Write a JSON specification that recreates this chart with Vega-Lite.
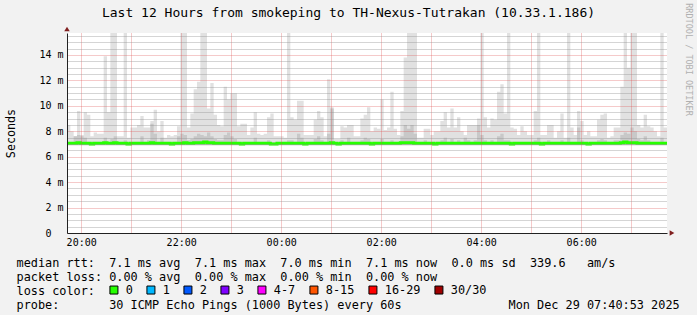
{
  "$schema": "https://vega.github.io/schema/vega-lite/v6.json",
  "width": 600,
  "height": 200,
  "autosize": "none",
  "padding": {"left": 67, "top": 33, "right": 30, "bottom": 82},
  "background": "#f2f2f2",
  "config": {"view": {"fill": "#ffffff", "stroke": null}, "font": "DejaVu Sans Mono"},
  "title": {"text": "Last 12 Hours from smokeping to TH-Nexus-Tutrakan (10.33.1.186)", "font": "DejaVu Sans Mono", "fontSize": 13, "fontWeight": "normal", "color": "#000000", "anchor": "middle", "dx": -18.5, "dy": 17, "offset": 0},
  "data": {"values": [
    {"t":"2025-12-28T19:43Z","mx":8.5,"p":7.15,"m":7.05},
    {"t":"2025-12-28T19:47Z","mx":8.0,"p":7.15,"m":7.05},
    {"t":"2025-12-28T19:51Z","mx":7.6,"p":7.6,"m":7.05},
    {"t":"2025-12-28T19:55Z","mx":9.6,"p":7.7,"m":7.1},
    {"t":"2025-12-28T19:59Z","mx":7.7,"p":7.6,"m":7.05},
    {"t":"2025-12-28T20:03Z","mx":9.5,"p":7.5,"m":7.05},
    {"t":"2025-12-28T20:07Z","mx":9.3,"p":7.15,"m":7.05},
    {"t":"2025-12-28T20:11Z","mx":7.6,"p":7.15,"m":7.0},
    {"t":"2025-12-28T20:15Z","mx":7.9,"p":7.15,"m":7.05},
    {"t":"2025-12-28T20:19Z","mx":7.8,"p":7.15,"m":7.05},
    {"t":"2025-12-28T20:23Z","mx":7.8,"p":7.15,"m":7.05},
    {"t":"2025-12-28T20:27Z","mx":13.9,"p":7.5,"m":7.1},
    {"t":"2025-12-28T20:31Z","mx":9.5,"p":7.15,"m":7.05},
    {"t":"2025-12-28T20:35Z","mx":16,"p":7.4,"m":7.05},
    {"t":"2025-12-28T20:39Z","mx":16,"p":7.6,"m":7.1},
    {"t":"2025-12-28T20:43Z","mx":7.6,"p":7.15,"m":7.05},
    {"t":"2025-12-28T20:47Z","mx":7.6,"p":7.15,"m":7.05},
    {"t":"2025-12-28T20:51Z","mx":16,"p":7.3,"m":7.05},
    {"t":"2025-12-28T20:55Z","mx":7.5,"p":7.15,"m":7.0},
    {"t":"2025-12-28T20:59Z","mx":8.3,"p":7.15,"m":7.05},
    {"t":"2025-12-28T21:03Z","mx":8.3,"p":7.15,"m":7.05},
    {"t":"2025-12-28T21:07Z","mx":8.5,"p":7.15,"m":7.05},
    {"t":"2025-12-28T21:11Z","mx":9.2,"p":7.6,"m":7.05},
    {"t":"2025-12-28T21:15Z","mx":8.3,"p":7.15,"m":7.05},
    {"t":"2025-12-28T21:19Z","mx":8.3,"p":7.3,"m":7.05},
    {"t":"2025-12-28T21:23Z","mx":8.8,"p":8.6,"m":7.1},
    {"t":"2025-12-28T21:27Z","mx":9.7,"p":7.8,"m":7.05},
    {"t":"2025-12-28T21:31Z","mx":8.0,"p":7.15,"m":7.05},
    {"t":"2025-12-28T21:35Z","mx":8.8,"p":7.5,"m":7.05},
    {"t":"2025-12-28T21:39Z","mx":7.5,"p":7.15,"m":7.05},
    {"t":"2025-12-28T21:43Z","mx":7.7,"p":7.15,"m":7.05},
    {"t":"2025-12-28T21:47Z","mx":7.6,"p":7.15,"m":7.0},
    {"t":"2025-12-28T21:51Z","mx":7.7,"p":7.15,"m":7.05},
    {"t":"2025-12-28T21:55Z","mx":8.4,"p":7.6,"m":7.05},
    {"t":"2025-12-28T21:59Z","mx":16,"p":7.8,"m":7.05},
    {"t":"2025-12-28T22:03Z","mx":16,"p":7.7,"m":7.1},
    {"t":"2025-12-28T22:07Z","mx":8.3,"p":7.3,"m":7.05},
    {"t":"2025-12-28T22:11Z","mx":9.4,"p":7.4,"m":7.05},
    {"t":"2025-12-28T22:15Z","mx":11.3,"p":7.6,"m":7.1},
    {"t":"2025-12-28T22:19Z","mx":11.9,"p":7.8,"m":7.1},
    {"t":"2025-12-28T22:23Z","mx":16,"p":7.7,"m":7.1},
    {"t":"2025-12-28T22:27Z","mx":16,"p":7.6,"m":7.15},
    {"t":"2025-12-28T22:31Z","mx":9.8,"p":7.9,"m":7.1},
    {"t":"2025-12-28T22:35Z","mx":11.8,"p":7.6,"m":7.1},
    {"t":"2025-12-28T22:39Z","mx":9.3,"p":7.4,"m":7.05},
    {"t":"2025-12-28T22:43Z","mx":8.5,"p":7.3,"m":7.05},
    {"t":"2025-12-28T22:47Z","mx":8.4,"p":7.3,"m":7.05},
    {"t":"2025-12-28T22:51Z","mx":11.5,"p":7.7,"m":7.05},
    {"t":"2025-12-28T22:55Z","mx":10.5,"p":7.9,"m":7.05},
    {"t":"2025-12-28T22:59Z","mx":11.0,"p":7.6,"m":7.05},
    {"t":"2025-12-28T23:03Z","mx":11.0,"p":7.4,"m":7.05},
    {"t":"2025-12-28T23:07Z","mx":8.4,"p":7.15,"m":7.05},
    {"t":"2025-12-28T23:11Z","mx":8.6,"p":7.15,"m":7.0},
    {"t":"2025-12-28T23:15Z","mx":8.6,"p":7.15,"m":7.05},
    {"t":"2025-12-28T23:19Z","mx":7.7,"p":7.15,"m":7.05},
    {"t":"2025-12-28T23:23Z","mx":8.3,"p":7.15,"m":7.05},
    {"t":"2025-12-28T23:27Z","mx":9.5,"p":7.5,"m":7.05},
    {"t":"2025-12-28T23:31Z","mx":7.8,"p":7.15,"m":7.05},
    {"t":"2025-12-28T23:35Z","mx":7.7,"p":7.15,"m":7.05},
    {"t":"2025-12-28T23:39Z","mx":7.8,"p":7.15,"m":7.05},
    {"t":"2025-12-28T23:43Z","mx":9.1,"p":7.3,"m":7.05},
    {"t":"2025-12-28T23:47Z","mx":9.4,"p":7.15,"m":7.0},
    {"t":"2025-12-28T23:51Z","mx":7.6,"p":7.15,"m":7.0},
    {"t":"2025-12-28T23:55Z","mx":7.6,"p":7.15,"m":7.05},
    {"t":"2025-12-28T23:59Z","mx":7.6,"p":7.15,"m":7.05},
    {"t":"2025-12-29T00:03Z","mx":7.5,"p":7.15,"m":7.05},
    {"t":"2025-12-29T00:07Z","mx":16,"p":7.3,"m":7.05},
    {"t":"2025-12-29T00:11Z","mx":9.1,"p":7.3,"m":7.05},
    {"t":"2025-12-29T00:15Z","mx":8.9,"p":7.15,"m":7.05},
    {"t":"2025-12-29T00:19Z","mx":10.4,"p":7.8,"m":7.05},
    {"t":"2025-12-29T00:23Z","mx":10.4,"p":7.5,"m":7.05},
    {"t":"2025-12-29T00:27Z","mx":7.7,"p":7.15,"m":7.0},
    {"t":"2025-12-29T00:31Z","mx":7.7,"p":7.15,"m":7.05},
    {"t":"2025-12-29T00:35Z","mx":7.7,"p":7.15,"m":7.05},
    {"t":"2025-12-29T00:39Z","mx":8.9,"p":7.4,"m":7.05},
    {"t":"2025-12-29T00:43Z","mx":9.6,"p":7.6,"m":7.05},
    {"t":"2025-12-29T00:47Z","mx":9.1,"p":7.3,"m":7.05},
    {"t":"2025-12-29T00:51Z","mx":7.6,"p":7.15,"m":7.05},
    {"t":"2025-12-29T00:55Z","mx":12.1,"p":7.8,"m":7.05},
    {"t":"2025-12-29T00:59Z","mx":9.9,"p":9.8,"m":7.1},
    {"t":"2025-12-29T01:03Z","mx":7.4,"p":7.15,"m":7.05},
    {"t":"2025-12-29T01:07Z","mx":7.4,"p":7.15,"m":7.0},
    {"t":"2025-12-29T01:11Z","mx":8.4,"p":7.3,"m":7.05},
    {"t":"2025-12-29T01:15Z","mx":8.3,"p":7.15,"m":7.05},
    {"t":"2025-12-29T01:19Z","mx":8.5,"p":7.5,"m":7.05},
    {"t":"2025-12-29T01:23Z","mx":8.5,"p":7.15,"m":7.05},
    {"t":"2025-12-29T01:27Z","mx":7.6,"p":7.15,"m":7.05},
    {"t":"2025-12-29T01:31Z","mx":7.6,"p":7.15,"m":7.05},
    {"t":"2025-12-29T01:35Z","mx":9.0,"p":7.3,"m":7.05},
    {"t":"2025-12-29T01:39Z","mx":9.3,"p":7.5,"m":7.05},
    {"t":"2025-12-29T01:43Z","mx":9.9,"p":7.4,"m":7.05},
    {"t":"2025-12-29T01:47Z","mx":8.0,"p":7.15,"m":7.0},
    {"t":"2025-12-29T01:51Z","mx":8.3,"p":7.15,"m":7.05},
    {"t":"2025-12-29T01:55Z","mx":8.2,"p":7.15,"m":7.05},
    {"t":"2025-12-29T01:59Z","mx":10.5,"p":7.4,"m":7.05},
    {"t":"2025-12-29T02:03Z","mx":8.1,"p":7.15,"m":7.05},
    {"t":"2025-12-29T02:07Z","mx":8.3,"p":7.15,"m":7.05},
    {"t":"2025-12-29T02:11Z","mx":11.1,"p":7.3,"m":7.05},
    {"t":"2025-12-29T02:15Z","mx":8.2,"p":7.15,"m":7.05},
    {"t":"2025-12-29T02:19Z","mx":7.7,"p":7.15,"m":7.05},
    {"t":"2025-12-29T02:23Z","mx":9.6,"p":7.6,"m":7.1},
    {"t":"2025-12-29T02:27Z","mx":13.8,"p":8.5,"m":7.1},
    {"t":"2025-12-29T02:31Z","mx":16,"p":8.2,"m":7.1},
    {"t":"2025-12-29T02:35Z","mx":16,"p":8.5,"m":7.1},
    {"t":"2025-12-29T02:39Z","mx":16,"p":7.8,"m":7.05},
    {"t":"2025-12-29T02:43Z","mx":7.5,"p":7.15,"m":7.05},
    {"t":"2025-12-29T02:47Z","mx":7.5,"p":7.15,"m":7.05},
    {"t":"2025-12-29T02:51Z","mx":8.2,"p":7.3,"m":7.05},
    {"t":"2025-12-29T02:55Z","mx":8.2,"p":7.15,"m":7.05},
    {"t":"2025-12-29T02:59Z","mx":7.7,"p":7.15,"m":7.05},
    {"t":"2025-12-29T03:03Z","mx":8.0,"p":7.15,"m":7.0},
    {"t":"2025-12-29T03:07Z","mx":8.0,"p":7.15,"m":7.05},
    {"t":"2025-12-29T03:11Z","mx":8.8,"p":7.3,"m":7.05},
    {"t":"2025-12-29T03:15Z","mx":9.5,"p":7.5,"m":7.05},
    {"t":"2025-12-29T03:19Z","mx":8.3,"p":7.15,"m":7.05},
    {"t":"2025-12-29T03:23Z","mx":9.8,"p":7.4,"m":7.05},
    {"t":"2025-12-29T03:27Z","mx":8.3,"p":7.15,"m":7.05},
    {"t":"2025-12-29T03:31Z","mx":9.1,"p":7.3,"m":7.05},
    {"t":"2025-12-29T03:35Z","mx":8.0,"p":7.15,"m":7.05},
    {"t":"2025-12-29T03:39Z","mx":7.7,"p":7.5,"m":7.05},
    {"t":"2025-12-29T03:43Z","mx":8.5,"p":7.3,"m":7.05},
    {"t":"2025-12-29T03:47Z","mx":8.5,"p":7.15,"m":7.05},
    {"t":"2025-12-29T03:51Z","mx":8.5,"p":7.3,"m":7.05},
    {"t":"2025-12-29T03:55Z","mx":9.0,"p":8.5,"m":7.05},
    {"t":"2025-12-29T03:59Z","mx":16,"p":7.7,"m":7.05},
    {"t":"2025-12-29T04:03Z","mx":9.1,"p":7.3,"m":7.05},
    {"t":"2025-12-29T04:07Z","mx":8.3,"p":7.15,"m":7.05},
    {"t":"2025-12-29T04:11Z","mx":9.0,"p":7.3,"m":7.05},
    {"t":"2025-12-29T04:15Z","mx":8.9,"p":7.15,"m":7.05},
    {"t":"2025-12-29T04:19Z","mx":11.1,"p":7.6,"m":7.05},
    {"t":"2025-12-29T04:23Z","mx":11.7,"p":7.8,"m":7.05},
    {"t":"2025-12-29T04:27Z","mx":9.4,"p":7.3,"m":7.05},
    {"t":"2025-12-29T04:31Z","mx":16,"p":7.3,"m":7.05},
    {"t":"2025-12-29T04:35Z","mx":8.3,"p":7.15,"m":7.0},
    {"t":"2025-12-29T04:39Z","mx":8.2,"p":7.15,"m":7.05},
    {"t":"2025-12-29T04:43Z","mx":7.7,"p":7.15,"m":7.05},
    {"t":"2025-12-29T04:47Z","mx":8.4,"p":7.15,"m":7.05},
    {"t":"2025-12-29T04:51Z","mx":8.0,"p":7.15,"m":7.05},
    {"t":"2025-12-29T04:55Z","mx":7.7,"p":7.15,"m":7.05},
    {"t":"2025-12-29T04:59Z","mx":7.7,"p":7.15,"m":7.05},
    {"t":"2025-12-29T05:03Z","mx":9.6,"p":7.3,"m":7.05},
    {"t":"2025-12-29T05:07Z","mx":16,"p":7.5,"m":7.05},
    {"t":"2025-12-29T05:11Z","mx":7.7,"p":7.15,"m":7.0},
    {"t":"2025-12-29T05:15Z","mx":7.7,"p":7.15,"m":7.05},
    {"t":"2025-12-29T05:19Z","mx":8.5,"p":7.3,"m":7.05},
    {"t":"2025-12-29T05:23Z","mx":8.5,"p":7.15,"m":7.05},
    {"t":"2025-12-29T05:27Z","mx":7.5,"p":7.15,"m":7.05},
    {"t":"2025-12-29T05:31Z","mx":8.0,"p":7.15,"m":7.05},
    {"t":"2025-12-29T05:35Z","mx":9.4,"p":7.3,"m":7.05},
    {"t":"2025-12-29T05:39Z","mx":7.5,"p":7.15,"m":7.05},
    {"t":"2025-12-29T05:43Z","mx":16,"p":7.5,"m":7.05},
    {"t":"2025-12-29T05:47Z","mx":8.3,"p":7.15,"m":7.05},
    {"t":"2025-12-29T05:51Z","mx":7.7,"p":7.15,"m":7.05},
    {"t":"2025-12-29T05:55Z","mx":9.6,"p":8.3,"m":7.05},
    {"t":"2025-12-29T05:59Z","mx":8.8,"p":7.3,"m":7.05},
    {"t":"2025-12-29T06:03Z","mx":7.7,"p":7.15,"m":7.05},
    {"t":"2025-12-29T06:07Z","mx":8.0,"p":7.15,"m":7.0},
    {"t":"2025-12-29T06:11Z","mx":7.6,"p":7.15,"m":7.05},
    {"t":"2025-12-29T06:15Z","mx":7.6,"p":7.15,"m":7.05},
    {"t":"2025-12-29T06:19Z","mx":8.9,"p":7.3,"m":7.05},
    {"t":"2025-12-29T06:23Z","mx":9.3,"p":7.4,"m":7.05},
    {"t":"2025-12-29T06:27Z","mx":9.4,"p":7.3,"m":7.05},
    {"t":"2025-12-29T06:31Z","mx":7.5,"p":7.15,"m":7.05},
    {"t":"2025-12-29T06:35Z","mx":7.6,"p":7.15,"m":7.05},
    {"t":"2025-12-29T06:39Z","mx":8.3,"p":7.3,"m":7.05},
    {"t":"2025-12-29T06:43Z","mx":8.3,"p":7.3,"m":7.05},
    {"t":"2025-12-29T06:47Z","mx":11.5,"p":7.7,"m":7.1},
    {"t":"2025-12-29T06:51Z","mx":16,"p":7.9,"m":7.15},
    {"t":"2025-12-29T06:55Z","mx":13.0,"p":7.8,"m":7.1},
    {"t":"2025-12-29T06:59Z","mx":16,"p":8.3,"m":7.1},
    {"t":"2025-12-29T07:03Z","mx":16,"p":8.0,"m":7.1},
    {"t":"2025-12-29T07:07Z","mx":8.5,"p":7.4,"m":7.05},
    {"t":"2025-12-29T07:11Z","mx":8.3,"p":7.3,"m":7.05},
    {"t":"2025-12-29T07:15Z","mx":9.3,"p":7.6,"m":7.05},
    {"t":"2025-12-29T07:19Z","mx":8.4,"p":7.3,"m":7.05},
    {"t":"2025-12-29T07:23Z","mx":8.3,"p":7.15,"m":7.05},
    {"t":"2025-12-29T07:27Z","mx":8.0,"p":7.15,"m":7.05},
    {"t":"2025-12-29T07:31Z","mx":7.6,"p":7.15,"m":7.05},
    {"t":"2025-12-29T07:35Z","mx":16,"p":7.5,"m":7.05},
    {"t":"2025-12-29T07:39Z","mx":8.3,"p":7.15,"m":7.05},
    {"t":"2025-12-29T07:43Z","mx":8.3,"p":7.15,"m":7.05}
  ]},
  "layer": [
    {
      "mark": {"type": "area", "interpolate": "step-after", "color": "#e1e1e1", "clip": true},
      "encoding": {
        "x": {"field": "t", "type": "temporal",
          "scale": {"type": "utc", "domain": [{"year": 2025, "month": 12, "date": 28, "hours": 19, "minutes": 43, "utc": true}, {"year": 2025, "month": 12, "date": 29, "hours": 7, "minutes": 43, "utc": true}]},
          "axis": {
            "values": [
              {"year": 2025, "month": 12, "date": 28, "hours": 20, "minutes": 0, "utc": true},
              {"year": 2025, "month": 12, "date": 28, "hours": 20, "minutes": 30, "utc": true},
              {"year": 2025, "month": 12, "date": 28, "hours": 21, "minutes": 0, "utc": true},
              {"year": 2025, "month": 12, "date": 28, "hours": 21, "minutes": 30, "utc": true},
              {"year": 2025, "month": 12, "date": 28, "hours": 22, "minutes": 0, "utc": true},
              {"year": 2025, "month": 12, "date": 28, "hours": 22, "minutes": 30, "utc": true},
              {"year": 2025, "month": 12, "date": 28, "hours": 23, "minutes": 0, "utc": true},
              {"year": 2025, "month": 12, "date": 28, "hours": 23, "minutes": 30, "utc": true},
              {"year": 2025, "month": 12, "date": 29, "hours": 0, "minutes": 0, "utc": true},
              {"year": 2025, "month": 12, "date": 29, "hours": 0, "minutes": 30, "utc": true},
              {"year": 2025, "month": 12, "date": 29, "hours": 1, "minutes": 0, "utc": true},
              {"year": 2025, "month": 12, "date": 29, "hours": 1, "minutes": 30, "utc": true},
              {"year": 2025, "month": 12, "date": 29, "hours": 2, "minutes": 0, "utc": true},
              {"year": 2025, "month": 12, "date": 29, "hours": 2, "minutes": 30, "utc": true},
              {"year": 2025, "month": 12, "date": 29, "hours": 3, "minutes": 0, "utc": true},
              {"year": 2025, "month": 12, "date": 29, "hours": 3, "minutes": 30, "utc": true},
              {"year": 2025, "month": 12, "date": 29, "hours": 4, "minutes": 0, "utc": true},
              {"year": 2025, "month": 12, "date": 29, "hours": 4, "minutes": 30, "utc": true},
              {"year": 2025, "month": 12, "date": 29, "hours": 5, "minutes": 0, "utc": true},
              {"year": 2025, "month": 12, "date": 29, "hours": 5, "minutes": 30, "utc": true},
              {"year": 2025, "month": 12, "date": 29, "hours": 6, "minutes": 0, "utc": true},
              {"year": 2025, "month": 12, "date": 29, "hours": 6, "minutes": 30, "utc": true},
              {"year": 2025, "month": 12, "date": 29, "hours": 7, "minutes": 0, "utc": true},
              {"year": 2025, "month": 12, "date": 29, "hours": 7, "minutes": 30, "utc": true}
            ],
            "labelExpr": "(utcminutes(datum.value) == 0 && utchours(datum.value) % 2 == 0) ? utcFormat(datum.value, '%H:%M') : ''",
            "labelFont": "DejaVu Sans Mono", "labelFontSize": 10, "labelColor": "#000000", "labelPadding": 4, "labelOverlap": false, "labelFlush": false, "labelBaseline": "top",
            "ticks": false, "tickSize": 0,
            "domainColor": "#222222", "domainWidth": 1,
            "grid": true,
            "gridColor": {"condition": {"test": "utcminutes(datum.value) == 0", "value": "rgba(222,79,79,0.6)"}, "value": "rgba(143,143,143,0.75)"},
            "gridDash": [1, 1], "gridWidth": 1,
            "zindex": 1,
            "title": ["median\u00a0rtt:\u00a0\u00a07.1\u00a0ms\u00a0avg\u00a0\u00a07.1\u00a0ms\u00a0max\u00a0\u00a07.0\u00a0ms\u00a0min\u00a0\u00a07.1\u00a0ms\u00a0now\u00a0\u00a00.0\u00a0ms\u00a0sd\u00a0\u00a0339.6\u00a0\u00a0\u00a0am/s",
                      "packet\u00a0loss:\u00a00.00\u00a0%\u00a0avg\u00a0\u00a00.00\u00a0%\u00a0max\u00a0\u00a00.00\u00a0%\u00a0min\u00a0\u00a00.00\u00a0%\u00a0now",
                      "loss\u00a0color:",
                      "probe:\u00a0\u00a0\u00a0\u00a0\u00a0\u00a0\u00a030\u00a0ICMP\u00a0Echo\u00a0Pings\u00a0(1000\u00a0Bytes)\u00a0every\u00a060s\u00a0\u00a0\u00a0\u00a0\u00a0\u00a0\u00a0\u00a0\u00a0\u00a0\u00a0\u00a0\u00a0\u00a0\u00a0Mon\u00a0Dec\u00a029\u00a007:40:53\u00a02025"],
            "titleFont": "DejaVu Sans Mono", "titleFontSize": 11.85, "titleFontWeight": "normal", "titleColor": "#000000",
            "titleX": -51, "titleY": 33, "titleAlign": "left", "titleAnchor": "start", "titleBaseline": "alphabetic", "titleLineHeight": 14
          }
        },
        "y": {"field": "mx", "type": "quantitative",
          "scale": {"domain": [0, 15.73], "nice": false, "zero": false},
          "axis": {
            "values": [0, 0.5, 1, 1.5, 2, 2.5, 3, 3.5, 4, 4.5, 5, 5.5, 6, 6.5, 7, 7.5, 8, 8.5, 9, 9.5, 10, 10.5, 11, 11.5, 12, 12.5, 13, 13.5, 14, 14.5, 15, 15.5],
            "labelExpr": "(datum.value % 2 == 0 && datum.value > 0) ? datum.value + ' m' : ''",
            "labelFont": "DejaVu Sans Mono", "labelFontSize": 10, "labelColor": "#000000", "labelPadding": 4,
            "labelOverlap": false, "labelFlush": false,
            "ticks": false, "tickSize": 0,
            "domainColor": "#222222", "domainWidth": 1,
            "grid": true,
            "gridColor": {"condition": {"test": "datum.value % 2 == 0", "value": "rgba(222,79,79,0.6)"}, "value": "rgba(143,143,143,0.75)"},
            "gridDash": [1, 1], "gridWidth": 1,
            "zindex": 1,
            "title": "Seconds", "titleFont": "DejaVu Sans Mono", "titleFontSize": 11.7, "titleFontWeight": "normal", "titleColor": "#000000",
            "titleX": -57, "titleY": 100, "titleAngle": -90, "titleAlign": "center", "titleBaseline": "middle"
          }
        },
        "y2": {"datum": 6.9}
      }
    },
    {
      "mark": {"type": "area", "interpolate": "step-after", "color": "#c8c8c8", "clip": true},
      "encoding": {
        "x": {"field": "t", "type": "temporal"},
        "y": {"field": "p", "type": "quantitative",
          "axis": {"orient": "left", "values": [0], "labelExpr": "'0'", "labelFont": "DejaVu Sans Mono", "labelFontSize": 10, "labelColor": "#000000", "labelPadding": 16,
            "ticks": false, "tickSize": 0, "domain": false, "grid": false, "title": null, "labelFlush": false, "labelOverlap": false}},
        "y2": {"datum": 6.9}
      }
    },
    {
      "mark": {"type": "line", "interpolate": "step-after", "color": "#26ff00", "strokeWidth": 3, "clip": true},
      "encoding": {
        "x": {"field": "t", "type": "temporal"},
        "y": {"field": "m", "type": "quantitative",
          "axis": {"orient": "right", "labels": false, "ticks": false, "domain": false, "grid": false,
            "title": "RRDTOOL / TOBI OETIKER", "titleFont": "DejaVu Sans Mono", "titleFontSize": 8.5, "titleFontWeight": "normal", "titleColor": "#b0b0b0",
            "titleAngle": 90, "titleX": 21, "titleY": 26, "titleAlign": "center", "titleBaseline": "middle"}
        }
      }
    },
    {
      "data": {"values": [{}]},
      "mark": {"type": "point", "filled": true, "shape": "square", "opacity": 0},
      "encoding": {
        "x": {"datum": {"year": 2025, "month": 12, "date": 28, "hours": 20, "minutes": 0, "utc": true}, "type": "temporal"},
        "y": {"datum": 1, "type": "quantitative", "axis": null},
        "color": {"datum": "0", "type": "nominal",
          "scale": {"domain": ["0", "1", "2", "3", "4-7", "8-15", "16-29", "30/30"], "range": ["#26ff00", "#00b8ff", "#0059ff", "#7e00ff", "#ff00ff", "#ff5500", "#ff0000", "#a00000"]},
          "legend": {"title": null, "orient": "none", "legendX": 41, "legendY": 251, "direction": "horizontal",
            "symbolType": "square", "symbolSize": 64, "symbolStrokeWidth": 1, "symbolStrokeColor": "#000000", "symbolOpacity": 1,
            "labelFont": "DejaVu Sans Mono", "labelFontSize": 11.85, "labelColor": "#000000", "labelOffset": 6, "columnPadding": 11, "padding": 0, "labelLimit": 0,
            "encode": {"symbols": {"update": {"stroke": {"value": "#000000"}, "strokeWidth": {"value": 1}, "opacity": {"value": 1}}}}}
        }
      }
    },
    {
      "data": {"values": [{}]},
      "mark": {"type": "point", "filled": true, "shape": "triangle-up", "color": "#801f1f", "size": 30, "opacity": 1, "yOffset": -4},
      "encoding": {
        "x": {"datum": {"year": 2025, "month": 12, "date": 28, "hours": 19, "minutes": 43, "utc": true}, "type": "temporal"},
        "y": {"datum": 15.73, "type": "quantitative", "axis": null}
      }
    },
    {
      "data": {"values": [{}]},
      "mark": {"type": "point", "filled": true, "shape": "triangle-right", "color": "#801f1f", "size": 30, "opacity": 1, "xOffset": 5},
      "encoding": {
        "x": {"datum": {"year": 2025, "month": 12, "date": 29, "hours": 7, "minutes": 43, "utc": true}, "type": "temporal"},
        "y": {"datum": 0, "type": "quantitative", "axis": null}
      }
    }
  ],
  "resolve": {"axis": {"y": "independent"}}
}
